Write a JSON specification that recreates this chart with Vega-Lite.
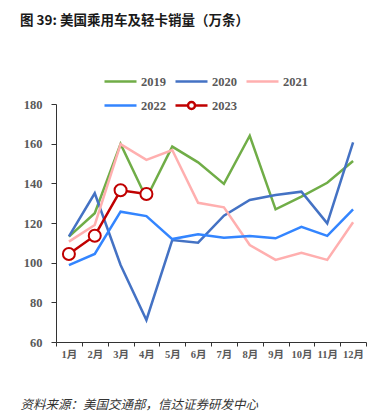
{
  "$schema": "https://vega.github.io/schema/vega-lite/v6.json",
  "width": 310,
  "height": 238,
  "autosize": {"type": "none"},
  "padding": {"left": 56, "top": 104, "right": 22, "bottom": 74},
  "background": "white",
  "title": {
    "text": "图 39: 美国乘用车及轻卡销量（万条）",
    "anchor": "start",
    "frame": "group",
    "dx": -36,
    "dy": -33,
    "font": "Noto Sans CJK SC",
    "fontSize": 13.5,
    "fontWeight": "bold",
    "color": "#1a1a1a"
  },
  "config": {"view": {"stroke": null}},
  "data": {
    "values": [
      {"month": "1月", "year": "2019", "value": 113.1},
      {"month": "2月", "year": "2019", "value": 124.9},
      {"month": "3月", "year": "2019", "value": 159.8},
      {"month": "4月", "year": "2019", "value": 132.5},
      {"month": "5月", "year": "2019", "value": 158.5},
      {"month": "6月", "year": "2019", "value": 150.6},
      {"month": "7月", "year": "2019", "value": 139.7},
      {"month": "8月", "year": "2019", "value": 164.0},
      {"month": "9月", "year": "2019", "value": 126.9},
      {"month": "10月", "year": "2019", "value": 133.3},
      {"month": "11月", "year": "2019", "value": 140.3},
      {"month": "12月", "year": "2019", "value": 151.3},
      {"month": "1月", "year": "2020", "value": 113.3},
      {"month": "2月", "year": "2020", "value": 135.0},
      {"month": "3月", "year": "2020", "value": 98.8},
      {"month": "4月", "year": "2020", "value": 71.1},
      {"month": "5月", "year": "2020", "value": 111.4},
      {"month": "6月", "year": "2020", "value": 110.1},
      {"month": "7月", "year": "2020", "value": 123.7},
      {"month": "8月", "year": "2020", "value": 131.6},
      {"month": "9月", "year": "2020", "value": 134.1},
      {"month": "10月", "year": "2020", "value": 135.8},
      {"month": "11月", "year": "2020", "value": 119.8},
      {"month": "12月", "year": "2020", "value": 160.7},
      {"month": "1月", "year": "2021", "value": 110.6},
      {"month": "2月", "year": "2021", "value": 119.0},
      {"month": "3月", "year": "2021", "value": 159.8},
      {"month": "4月", "year": "2021", "value": 151.8},
      {"month": "5月", "year": "2021", "value": 156.8},
      {"month": "6月", "year": "2021", "value": 130.2},
      {"month": "7月", "year": "2021", "value": 127.9},
      {"month": "8月", "year": "2021", "value": 108.9},
      {"month": "9月", "year": "2021", "value": 101.4},
      {"month": "10月", "year": "2021", "value": 105.0},
      {"month": "11月", "year": "2021", "value": 101.4},
      {"month": "12月", "year": "2021", "value": 120.4},
      {"month": "1月", "year": "2022", "value": 98.8},
      {"month": "2月", "year": "2022", "value": 104.4},
      {"month": "3月", "year": "2022", "value": 125.7},
      {"month": "4月", "year": "2022", "value": 123.5},
      {"month": "5月", "year": "2022", "value": 111.9},
      {"month": "6月", "year": "2022", "value": 114.3},
      {"month": "7月", "year": "2022", "value": 112.6},
      {"month": "8月", "year": "2022", "value": 113.5},
      {"month": "9月", "year": "2022", "value": 112.3},
      {"month": "10月", "year": "2022", "value": 118.1},
      {"month": "11月", "year": "2022", "value": 113.5},
      {"month": "12月", "year": "2022", "value": 126.9},
      {"month": "1月", "year": "2023", "value": 104.4},
      {"month": "2月", "year": "2023", "value": 113.6},
      {"month": "3月", "year": "2023", "value": 136.5},
      {"month": "4月", "year": "2023", "value": 134.6}
    ]
  },
  "encoding": {
    "x": {
      "field": "month",
      "type": "ordinal",
      "sort": ["1月", "2月", "3月", "4月", "5月", "6月", "7月", "8月", "9月", "10月", "11月", "12月"],
      "scale": {"type": "band", "paddingInner": 0, "paddingOuter": 0},
      "axis": {
        "title": "资料来源：美国交通部，信达证券研发中心",
        "titleX": -36,
        "titleY": 62,
        "titleAlign": "left",
        "titleBaseline": "middle",
        "titleFont": "Noto Sans CJK SC",
        "titleFontStyle": "italic",
        "titleFontWeight": "normal",
        "titleFontSize": 12.5,
        "titleColor": "#333333",
        "tickBand": "extent",
        "labelAngle": 0,
        "domainColor": "#333333",
        "tickColor": "#333333",
        "tickSize": 4,
        "labelPadding": 3,
        "labelFont": "Liberation Serif, Noto Sans CJK SC, serif",
        "labelFontWeight": "bold",
        "labelFontSize": 10.5,
        "labelColor": "#595959",
        "grid": false
      }
    },
    "y": {
      "field": "value",
      "type": "quantitative",
      "scale": {"domain": [60, 180], "nice": false, "zero": false},
      "axis": {
        "title": null,
        "values": [60, 80, 100, 120, 140, 160, 180],
        "domainColor": "#333333",
        "tickColor": "#333333",
        "tickSize": 5,
        "labelPadding": 9,
        "grid": false,
        "labelFont": "Liberation Serif, serif",
        "labelFontWeight": "bold",
        "labelFontSize": 12.5,
        "labelColor": "#595959"
      }
    }
  },
  "layer": [
    {
      "mark": {"type": "line", "strokeWidth": 2.5},
      "encoding": {
        "color": {
          "field": "year",
          "type": "nominal",
          "scale": {
            "domain": ["2019", "2020", "2021", "2022", "2023"],
            "range": ["#70AD47", "#4472C4", "#FFAFAF", "#3385FF", "#C00000"]
          },
          "legend": {
            "orient": "none",
            "legendX": 47,
            "legendY": -40,
            "direction": "horizontal",
            "columns": 3,
            "title": null,
            "symbolType": "stroke",
            "symbolSize": 1024,
            "symbolStrokeWidth": 2.5,
            "labelFont": "Liberation Serif, serif",
            "labelFontWeight": "bold",
            "labelFontSize": 12.5,
            "labelColor": "#595959",
            "labelOffset": 3,
            "columnPadding": 4,
            "rowPadding": -8,
            "padding": 0,
            "encode": {
              "symbols": {
                "update": {
                  "shape": [
                    {"test": "datum.value === '2023'", "value": "M-1,0L-0.22,0M0.22,0L1,0M0.22,0A0.22,0.22 0 1,1 -0.22,0A0.22,0.22 0 1,1 0.22,0"},
                    {"value": "stroke"}
                  ],
                  "fill": [
                    {"test": "datum.value === '2023'", "value": "white"},
                    {"value": "transparent"}
                  ]
                }
              }
            }
          }
        }
      }
    },
    {
      "transform": [{"filter": "datum.year === '2023'"}],
      "mark": {
        "type": "point",
        "shape": "circle",
        "size": 144,
        "filled": true,
        "fill": "white",
        "stroke": "#C00000",
        "strokeWidth": 2,
        "opacity": 1
      }
    }
  ]
}
